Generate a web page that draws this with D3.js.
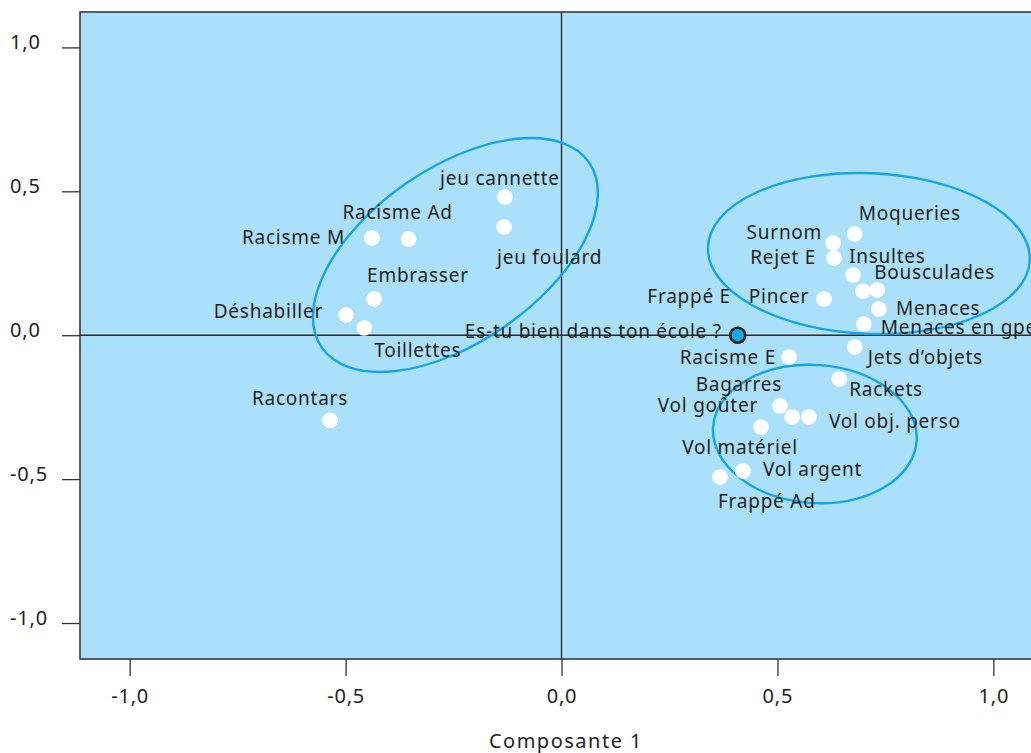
<!DOCTYPE html>
<html><head><meta charset="utf-8">
<script src="https://cdn.jsdelivr.net/npm/d3@7"></script>
<style>
html,body{margin:0;padding:0;background:#fff;overflow:hidden}
text{font-family:"Noto Sans",sans-serif;fill:#231f20}
</style></head>
<body>
<svg id="chart" width="1031" height="753"></svg>
<script>
// ---- data ----
const labels = ["jeu cannette","jeu foulard","Racisme M","Racisme Ad","Embrasser","Déshabiller","Toillettes","Racontars",
  "Moqueries","Surnom","Rejet E","Insultes","Frappé E","Bousculades","Pincer","Menaces","Menaces en gpe",
  "Jets d’objets","Racisme E","Rackets","Bagarres","Vol goûter","Vol obj. perso","Vol matériel","Vol argent","Frappé Ad"];
const comp1 = [-0.131,-0.133,-0.439,-0.354,-0.434,-0.499,-0.457,-0.536,
  0.679,0.629,0.631,0.675,0.698,0.731,0.608,0.735,0.700,
  0.679,0.527,0.643,0.534,0.506,0.573,0.462,0.420,0.367];
const comp2 = [0.480,0.376,0.338,0.334,0.126,0.070,0.025,-0.296,
  0.352,0.320,0.268,0.209,0.153,0.157,0.126,0.091,0.039,
  -0.041,-0.076,-0.152,-0.284,-0.246,-0.284,-0.319,-0.472,-0.493];
const questionLabel = "Es-tu bien dans ton école ?";
const questionPoint = [0.408, 0.0];
const xTicks = [-1.0,-0.5,0.0,0.5,1.0];
const yTicks = [-1.0,-0.5,0.0,0.5,1.0];
const xTitle = "Composante 1";
// ellipses: centre (data), semi-axes (data units), rotation (deg)
const ellCx = [-0.2457, 0.7117, 0.5867];
const ellCy = [0.2787, 0.2839, -0.3433];
const ellRx = [0.3765, 0.3730, 0.2362];
const ellRy = [0.3020, 0.2790, 0.2398];
const ellRot = [-34.75, 2.4, 4];

// ---- label placement (layout) : dx, dy (px), anchor ----
const labelPlace = [[-5,-19,"middle"],[-7,30,"start"],[-27,-1,"end"],[-11,-27,"middle"],[-7,-24,"start"],[-23,-4,"end"],[10,22,"start"],[-30,-22,"middle"],
  [4,-21,"start"],[-11,-11,"end"],[-18,-1,"end"],[-4,-19,"start"],[-132,5,"end"],[-3,-18,"start"],[-15,-3,"end"],[17,-1,"start"],[17,3,"start"],
  [13,10,"start"],[-13,0,"end"],[10,10,"start"],[-10,-33,"end"],[-22,-1,"end"],[20,4,"start"],[-21,20,"middle"],[20,-2,"start"],[-2,24,"start"]];
const questionPlace = [-16,-4,"end"];

const svg = d3.select("#chart");
const pLeft=80, pRight=1040, pTop=12, pBottom=659;
const x = d3.scaleLinear().domain([-1.115,1.108]).range([pLeft,pRight]);
const y = d3.scaleLinear().domain([-1.125,1.123]).range([pBottom,pTop]);
const fmt = d => d3.format(".1f")(d).replace(".", ",").replace("−","-");
const LBL = 19, LS = 0.75;

// background
svg.append("rect").attr("x",pLeft).attr("y",pTop).attr("width",pRight-pLeft).attr("height",pBottom-pTop)
  .attr("fill","#abe0fa").attr("stroke","#3a3a3a").attr("stroke-width",1.6);

// zero lines
svg.append("line").attr("x1",x(0)).attr("x2",x(0)).attr("y1",pTop).attr("y2",pBottom).attr("stroke","#2b2b2b").attr("stroke-width",1.4);
svg.append("line").attr("x1",pLeft).attr("x2",pRight).attr("y1",y(0)).attr("y2",y(0)).attr("stroke","#2b2b2b").attr("stroke-width",1.4);

// axes
const xAxis = d3.axisBottom(x).tickValues(xTicks).tickSize(17).tickFormat(fmt);
const gx = svg.append("g").attr("transform",`translate(0,${pBottom})`).call(xAxis);
gx.select(".domain").remove();
gx.selectAll(".tick line").attr("stroke","#333").attr("stroke-width",1.3);
gx.selectAll(".tick text").attr("font-size",20).attr("letter-spacing",0.8).attr("fill","#231f20").attr("font-family","Noto Sans")
  .attr("dy","0.35em").attr("y",37);

const yAxis = d3.axisLeft(y).tickValues(yTicks).tickSize(18).tickFormat(fmt);
const gy = svg.append("g").attr("transform",`translate(${pLeft},0)`).call(yAxis);
gy.select(".domain").remove();
gy.selectAll(".tick line").attr("stroke","#333").attr("stroke-width",1.3);
gy.selectAll(".tick text").attr("font-size",20).attr("letter-spacing",0.8).attr("fill","#231f20").attr("font-family","Noto Sans")
  .attr("text-anchor","start").attr("x",10-pLeft).attr("dy","0.05em");

svg.append("text").attr("x",566).attr("y",741).attr("dy","0.35em").attr("text-anchor","middle")
  .attr("font-size",20).attr("letter-spacing",1.5).text(xTitle);

// ellipses
const gE = svg.append("g");
ellCx.forEach((cx,i)=>{
  const px = x(cx), py = y(ellCy[i]);
  const a = x(cx+ellRx[i])-px, b = py - y(ellCy[i]+ellRy[i]);
  gE.append("ellipse").attr("cx",0).attr("cy",0).attr("rx",a).attr("ry",b)
    .attr("transform",`translate(${px},${py}) rotate(${ellRot[i]})`)
    .attr("fill","none").attr("stroke","#12a6e6").attr("stroke-width",2.4);
});

// points
const pts = labels.map((l,i)=>({label:l, x:comp1[i], y:comp2[i], place:labelPlace[i]}));
svg.append("g").selectAll("circle").data(pts).join("circle")
  .attr("cx",d=>x(d.x)).attr("cy",d=>y(d.y)).attr("r",7.8).attr("fill","#fff");

svg.append("g").selectAll("text").data(pts).join("text")
  .attr("x",d=>x(d.x)+d.place[0]).attr("y",d=>y(d.y)+d.place[1]).attr("dy","0.35em")
  .attr("text-anchor",d=>d.place[2]).attr("font-size",LBL).attr("letter-spacing",LS).text(d=>d.label);

// question point
svg.append("text").attr("x",x(questionPoint[0])+questionPlace[0]).attr("y",y(questionPoint[1])+questionPlace[1])
  .attr("dy","0.35em").attr("text-anchor",questionPlace[2]).attr("font-size",LBL).attr("letter-spacing",LS).text(questionLabel);
svg.append("circle").attr("cx",x(questionPoint[0])).attr("cy",y(questionPoint[1])).attr("r",7.5)
  .attr("fill","#14a9e8").attr("stroke","#1e1e1e").attr("stroke-width",2.6);
</script>
</body></html>
